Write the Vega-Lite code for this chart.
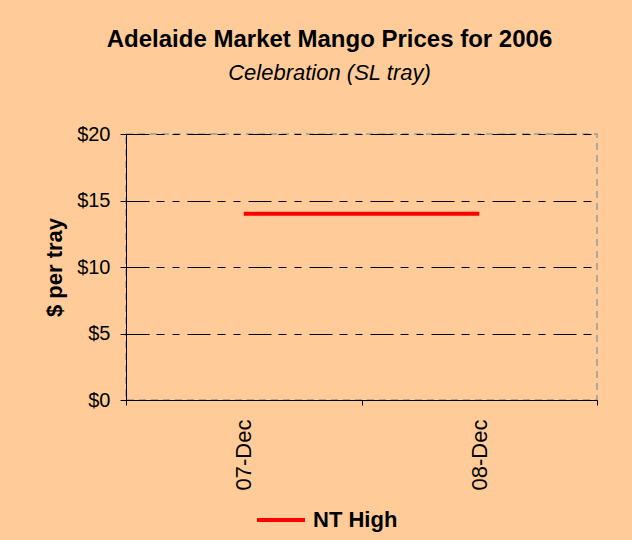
{
  "$schema": "https://vega.github.io/schema/vega-lite/v6.json",
  "autosize": {"type": "none"},
  "width": 471,
  "height": 266,
  "padding": {"left": 126, "top": 134, "right": 35, "bottom": 140},
  "background": "#FFCC99",
  "title": {
    "text": "Adelaide Market Mango Prices for 2006",
    "subtitle": "Celebration (SL tray)",
    "anchor": "middle",
    "frame": "group",
    "dx": -32,
    "offset": 40,
    "font": "Liberation Sans",
    "fontSize": 24,
    "fontWeight": "bold",
    "color": "#000000",
    "subtitleFont": "Liberation Sans",
    "subtitleFontSize": 22,
    "subtitleFontStyle": "italic",
    "subtitleFontWeight": "normal",
    "subtitleColor": "#000000",
    "subtitlePadding": 11
  },
  "config": {
    "view": {"stroke": "#999999", "strokeWidth": 1.5, "strokeDash": [7, 5], "fill": "#FFCC99"},
    "axis": {
      "labelFont": "Liberation Sans",
      "titleFont": "Liberation Sans",
      "labelColor": "#000000",
      "titleColor": "#000000",
      "domainColor": "#000000",
      "tickColor": "#000000",
      "domainWidth": 1,
      "tickWidth": 1
    },
    "legend": {"labelFont": "Liberation Sans"}
  },
  "data": {
    "values": [
      {"date": "07-Dec", "series": "NT High", "price": 14.0},
      {"date": "08-Dec", "series": "NT High", "price": 14.0}
    ]
  },
  "mark": {"type": "line", "strokeWidth": 4, "strokeCap": "butt"},
  "encoding": {
    "x": {
      "field": "date",
      "type": "ordinal",
      "sort": ["07-Dec", "08-Dec"],
      "bandPosition": 0.5,
      "scale": {"type": "band", "paddingInner": 0, "paddingOuter": 0},
      "axis": {
        "title": null,
        "labelAngle": -90,
        "labelFontSize": 22,
        "labelPadding": 14,
        "tickSize": 5,
        "tickBand": "extent",
        "grid": false
      }
    },
    "y": {
      "field": "price",
      "type": "quantitative",
      "scale": {"domain": [0, 20], "nice": false},
      "axis": {
        "title": "$ per tray",
        "titleFontSize": 22,
        "titleFontWeight": "bold",
        "titlePadding": 10,
        "values": [0, 5, 10, 15, 20],
        "format": "$.0f",
        "labelFontSize": 20,
        "labelPadding": 10,
        "tickSize": 6,
        "grid": true,
        "gridColor": "#000000",
        "gridWidth": 1,
        "gridDash": [23, 7, 8, 8, 7, 8]
      }
    },
    "color": {
      "field": "series",
      "type": "nominal",
      "scale": {"range": ["#FF0000"]},
      "legend": {
        "title": null,
        "orient": "none",
        "legendX": 129,
        "legendY": 360,
        "padding": 0,
        "symbolType": "stroke",
        "symbolSize": 2304,
        "symbolStrokeWidth": 4,
        "labelFontSize": 22,
        "labelFontWeight": "bold",
        "labelColor": "#000000",
        "labelOffset": 6
      }
    }
  }
}
